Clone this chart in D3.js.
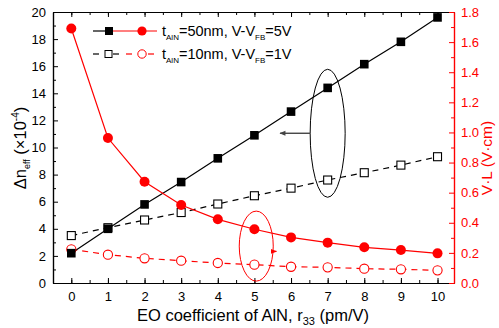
<!DOCTYPE html>
<html>
<head>
<meta charset="utf-8">
<script src="https://cdn.jsdelivr.net/npm/d3@7"></script>
<style>
body { margin: 0; background: #fff; }
text { font-family: "Liberation Sans", Arial, sans-serif; }
</style>
</head>
<body>
<div id="chart"></div>
<script>
var widthsvg = 499;
var heightsvg = 328;

// data
var r33 = [0, 1, 2, 3, 4, 5, 6, 7, 8, 9, 10];
var dn50 = [2.2, 4.0, 5.8, 7.45, 9.2, 10.9, 12.65, 14.4, 16.15, 17.8, 19.6];
var dn10 = [3.5, 4.08, 4.65, 5.2, 5.83, 6.44, 7.0, 7.6, 8.14, 8.7, 9.32];
var vl50 = [1.69, 0.963, 0.673, 0.518, 0.423, 0.357, 0.303, 0.268, 0.237, 0.219, 0.197];
var vl10 = [0.224, 0.188, 0.164, 0.148, 0.133, 0.122, 0.108, 0.104, 0.095, 0.091, 0.084];
var xticks = [0, 1, 2, 3, 4, 5, 6, 7, 8, 9, 10];
var yticksLeft = [0, 2, 4, 6, 8, 10, 12, 14, 16, 18, 20];
var yticksRight = [0, 0.2, 0.4, 0.6, 0.8, 1.0, 1.2, 1.4, 1.6, 1.8];

var red = "#ff0000";
var m = {top: 12, right: 45, bottom: 45, left: 53};
var width = widthsvg - m.left - m.right;
var height = heightsvg - m.top - m.bottom;

var svg = d3.select("#chart").append("svg")
    .attr("width", widthsvg)
    .attr("height", heightsvg);

var g = svg.append("g").attr("transform", `translate(${m.left}, ${m.top})`);

var x = d3.scaleLinear().domain([-0.5, 10.45]).range([0, width]);
var yL = d3.scaleLinear().domain([0, 20]).range([height, 0]);
var yR = d3.scaleLinear().domain([0, 1.8]).range([height, 0]);

// axes with inward ticks
function styleAxis(sel, color) {
    sel.select(".domain").attr("stroke", color).attr("stroke-width", 1.2);
    sel.selectAll(".tick line").attr("stroke", color);
    sel.selectAll(".tick text").attr("fill", color)
        .style("font-family", "Liberation Sans, Arial, sans-serif")
        .style("font-size", "13px");
}

// minor ticks first
g.append("g").attr("transform", `translate(0, ${height})`)
    .call(d3.axisBottom(x).tickValues(d3.range(-0.5, 10.5, 0.5)).tickSize(-3).tickFormat("").tickSizeOuter(0))
    .call(s => styleAxis(s, "#000"));
g.append("g").attr("transform", `translate(0, ${height})`)
    .call(d3.axisBottom(x).tickValues(xticks).tickSize(-5).tickPadding(9).tickSizeOuter(0))
    .call(s => styleAxis(s, "#000"));

g.append("g")
    .call(d3.axisTop(x).tickValues(d3.range(-0.5, 10.5, 0.5)).tickSize(-3).tickFormat("").tickSizeOuter(0))
    .call(s => styleAxis(s, "#000"));
g.append("g")
    .call(d3.axisTop(x).tickValues(xticks).tickSize(-5).tickFormat("").tickSizeOuter(0))
    .call(s => styleAxis(s, "#000"));

g.append("g")
    .call(d3.axisLeft(yL).tickValues(d3.range(1, 20, 2)).tickSize(-3).tickFormat("").tickSizeOuter(0))
    .call(s => styleAxis(s, "#000"));
g.append("g")
    .call(d3.axisLeft(yL).tickValues(yticksLeft).tickSize(-5).tickPadding(7).tickSizeOuter(0))
    .call(s => styleAxis(s, "#000"));

g.append("g").attr("transform", `translate(${width}, 0)`)
    .call(d3.axisRight(yR).tickValues(d3.range(0.1, 1.8, 0.2)).tickSize(-3).tickFormat("").tickSizeOuter(0))
    .call(s => styleAxis(s, red));
g.append("g").attr("transform", `translate(${width}, 0)`)
    .call(d3.axisRight(yR).tickValues(yticksRight).tickSize(-5).tickPadding(7).tickFormat(d3.format(".1f")).tickSizeOuter(0))
    .call(s => styleAxis(s, red));

// lines
function drawSeries(vals, yscale, color, dash) {
    var line = d3.line().x((d, i) => x(r33[i])).y(d => yscale(d));
    g.append("path").datum(vals)
        .attr("d", line)
        .attr("fill", "none")
        .attr("stroke", color)
        .attr("stroke-width", 1.2)
        .attr("stroke-dasharray", dash);
}
drawSeries(dn10, yL, "#000", "6,5");
drawSeries(vl10, yR, red, "6,5");
drawSeries(dn50, yL, "#000", null);
drawSeries(vl50, yR, red, null);

// markers
g.selectAll(".sq10").data(dn10).enter().append("rect")
    .attr("x", (d, i) => x(r33[i]) - 4).attr("y", d => yL(d) - 4)
    .attr("width", 8).attr("height", 8)
    .attr("fill", "#fff").attr("stroke", "#000").attr("stroke-width", 1.1);
g.selectAll(".c10").data(vl10).enter().append("circle")
    .attr("cx", (d, i) => x(r33[i])).attr("cy", d => yR(d)).attr("r", 4.6)
    .attr("fill", "#fff").attr("stroke", red).attr("stroke-width", 1.1);
g.selectAll(".sq50").data(dn50).enter().append("rect")
    .attr("x", (d, i) => x(r33[i]) - 4.3).attr("y", d => yL(d) - 4.3)
    .attr("width", 8.6).attr("height", 8.6)
    .attr("fill", "#000");
g.selectAll(".c50").data(vl50).enter().append("circle")
    .attr("cx", (d, i) => x(r33[i])).attr("cy", d => yR(d)).attr("r", 5)
    .attr("fill", red);

// ellipses and arrows
var defs = svg.append("defs");
function arrowHead(id, color) {
    defs.append("marker").attr("id", id)
        .attr("viewBox", "0 0 10 10").attr("refX", 9).attr("refY", 5)
        .attr("markerWidth", 8).attr("markerHeight", 6).attr("orient", "auto")
        .attr("markerUnits", "userSpaceOnUse")
        .append("path").attr("d", "M0,1 L10,5 L0,9 Z").attr("fill", color);
}
arrowHead("ahBlack", "#444");
arrowHead("ahRed", red);

g.append("ellipse")
    .attr("cx", x(7)).attr("cy", yL(11.05)).attr("rx", 17.5).attr("ry", 64)
    .attr("fill", "none").attr("stroke", "#000").attr("stroke-width", 1);
g.append("line")
    .attr("x1", x(7) - 17.5).attr("y1", yL(11.05)).attr("x2", x(5.7)).attr("y2", yL(11.05))
    .attr("stroke", "#444").attr("stroke-width", 1.4).attr("marker-end", "url(#ahBlack)");

g.append("ellipse")
    .attr("cx", x(5.05)).attr("cy", yR(0.245)).attr("rx", 17).attr("ry", 35)
    .attr("fill", "none").attr("stroke", red).attr("stroke-width", 1);
g.append("line")
    .attr("x1", x(5.05) + 17).attr("y1", yR(0.21)).attr("x2", x(5.6)).attr("y2", yR(0.21))
    .attr("stroke", red).attr("stroke-width", 1.3).attr("marker-end", "url(#ahRed)");

// legend
var leg = svg.append("g");
function legendRow(y, dashed, label, tail) {
    if (dashed) {
        leg.append("line").attr("x1", 93).attr("x2", 99).attr("y1", y).attr("y2", y).attr("stroke", "#000").attr("stroke-width", 1.2);
        leg.append("line").attr("x1", 113).attr("x2", 119).attr("y1", y).attr("y2", y).attr("stroke", "#000").attr("stroke-width", 1.2);
        leg.append("rect").attr("x", 105).attr("y", y - 3.5).attr("width", 7).attr("height", 7).attr("fill", "#fff").attr("stroke", "#000");
        leg.append("line").attr("x1", 126).attr("x2", 132).attr("y1", y).attr("y2", y).attr("stroke", red).attr("stroke-width", 1.2);
        leg.append("line").attr("x1", 148).attr("x2", 154).attr("y1", y).attr("y2", y).attr("stroke", red).attr("stroke-width", 1.2);
        leg.append("circle").attr("cx", 142).attr("cy", y).attr("r", 4.2).attr("fill", "#fff").attr("stroke", red);
    } else {
        leg.append("line").attr("x1", 93).attr("x2", 113).attr("y1", y).attr("y2", y).attr("stroke", "#000").attr("stroke-width", 1.2);
        leg.append("rect").attr("x", 105).attr("y", y - 4).attr("width", 8).attr("height", 8).attr("fill", "#000");
        leg.append("line").attr("x1", 113).attr("x2", 157).attr("y1", y).attr("y2", y).attr("stroke", red).attr("stroke-width", 1.2);
        leg.append("circle").attr("cx", 142).attr("cy", y).attr("r", 4.6).attr("fill", red);
    }
    var t = leg.append("text").attr("x", 162).attr("y", y + 5).style("font-size", "14.5px");
    t.append("tspan").text("t");
    t.append("tspan").attr("dy", 4).style("font-size", "8px").text("AlN");
    t.append("tspan").attr("dy", -4).text(label);
    t.append("tspan").attr("dy", 4).style("font-size", "8px").text("FB");
    t.append("tspan").attr("dy", -4).text(tail);
}
legendRow(31, false, "=50nm, V-V", "=5V");
legendRow(54, true, "=10nm, V-V", "=1V");

// axis titles
var xl = svg.append("text").attr("x", 253).attr("y", 321).attr("text-anchor", "middle").style("font-size", "16.5px");
xl.append("tspan").text("EO coefficient of AlN, r");
xl.append("tspan").attr("dy", 4).style("font-size", "11px").text("33");
xl.append("tspan").attr("dy", -4).text(" (pm/V)");

var yl = svg.append("text").attr("transform", "translate(26, 148) rotate(-90)").attr("text-anchor", "middle").style("font-size", "16.5px");
yl.append("tspan").text("\u0394n");
yl.append("tspan").attr("dy", 4).style("font-size", "9px").text("eff");
yl.append("tspan").attr("dy", -4).text(" (\u00d710");
yl.append("tspan").attr("dy", -7).style("font-size", "10px").text("-4");
yl.append("tspan").attr("dy", 7).text(")");

svg.append("text").attr("transform", "translate(492, 158) rotate(-90)").attr("text-anchor", "middle")
    .style("font-size", "15.5px").attr("fill", red).text("V\u00b7L (V\u00b7cm)");
</script>
</body>
</html>
